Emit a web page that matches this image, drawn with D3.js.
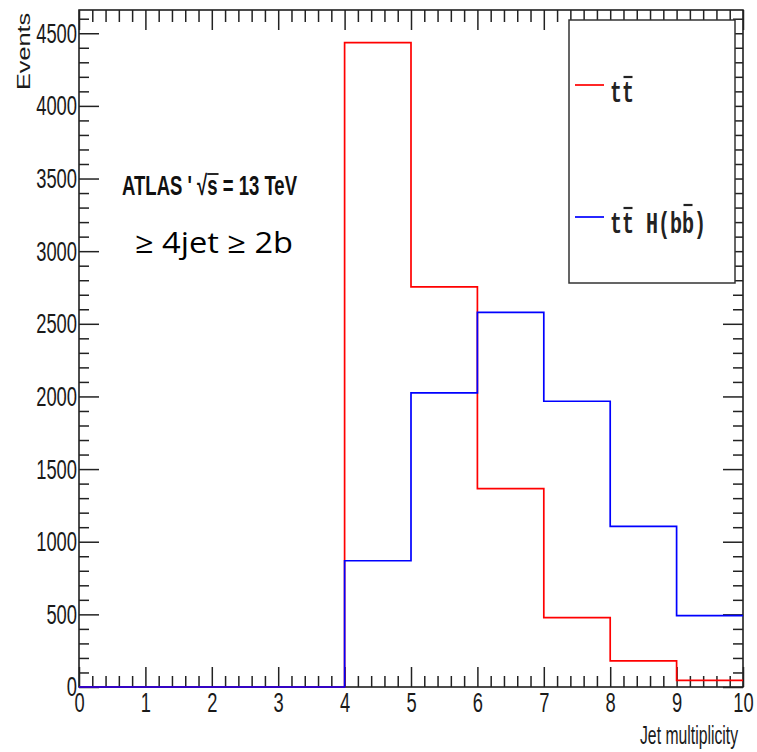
<!DOCTYPE html>
<html lang="en">
<head>
<meta charset="UTF-8">
<script src="https://d3js.org/d3.v7.min.js"></script>
<title>Jet multiplicity</title>
<style>
  body { margin: 0; background: #fff; }
  svg text { font-family: "Liberation Sans", Arial, sans-serif; }
  .tick line { stroke: #222; stroke-width: 1.5; }
  .tick text { fill: #1a1a1a; font-size: 28px; }
  .legend-text { font-family: "Liberation Mono", "DejaVu Sans Mono", monospace; font-weight: bold; font-size: 30px; fill: #222; }
</style>
</head>
<body>
<svg id="chart" width="757" height="752"></svg>
<script>
  // bin low edges (width 1) and histogram contents
  const binLow = [0, 1, 2, 3, 4, 5, 6, 7, 8, 9];
  const ttbar = [0, 0, 0, 0, 4435, 2754, 1365, 477, 180, 45];
  const ttH = [0, 0, 0, 0, 869, 2024, 2578, 1967, 1106, 491];

  const xTicks = [0, 1, 2, 3, 4, 5, 6, 7, 8, 9, 10];
  const yTicks = [0, 500, 1000, 1500, 2000, 2500, 3000, 3500, 4000, 4500];

  const series = [
    { name: "ttbar", values: ttbar, color: "#ff0000" },
    { name: "ttH", values: ttH, color: "#0000ff" }
  ];

  // frame edges
  const fLeft = 79, fRight = 743, fTop = 10, fBottom = 687;

  const svg = d3.select("#chart");

  const x = d3.scaleLinear().domain([0, 10]).range([fLeft, fRight]);
  const y = d3.scaleLinear().domain([0, 4660]).range([fBottom, fTop]);

  const xMinor = d3.range(0, 10.001, 0.2).map(v => +v.toFixed(1)).filter(v => !xTicks.includes(v));
  const yMinor = d3.range(0, 4660, 100).filter(v => !yTicks.includes(v));

  // frame
  svg.append("rect")
    .attr("x", fLeft).attr("y", fTop)
    .attr("width", fRight - fLeft).attr("height", fBottom - fTop)
    .attr("fill", "none").attr("stroke", "#111").attr("stroke-width", 1.5);

  const labelLen = t => String(t).length * 10.2;

  // bottom axis
  svg.append("g").attr("transform", `translate(0,${fBottom})`)
    .call(d3.axisBottom(x).tickValues(xTicks).tickSize(-20).tickSizeOuter(0).tickPadding(5).tickFormat(d3.format("d")))
    .call(g => g.select(".domain").remove())
    .call(g => g.selectAll("text")
      .attr("textLength", d => labelLen(d)).attr("lengthAdjust", "spacingAndGlyphs"));
  svg.append("g").attr("transform", `translate(0,${fBottom})`)
    .call(d3.axisBottom(x).tickValues(xMinor).tickSize(-11).tickSizeOuter(0).tickFormat(""))
    .call(g => g.select(".domain").remove());

  // top axis
  svg.append("g").attr("transform", `translate(0,${fTop})`)
    .call(d3.axisTop(x).tickValues(xTicks).tickSize(-20).tickSizeOuter(0).tickFormat(""))
    .call(g => g.select(".domain").remove());
  svg.append("g").attr("transform", `translate(0,${fTop})`)
    .call(d3.axisTop(x).tickValues(xMinor).tickSize(-12).tickSizeOuter(0).tickFormat(""))
    .call(g => g.select(".domain").remove());

  // left axis
  svg.append("g").attr("transform", `translate(${fLeft},0)`)
    .call(d3.axisLeft(y).tickValues(yTicks).tickSize(-20).tickSizeOuter(0).tickPadding(2).tickFormat(d3.format("d")))
    .call(g => g.select(".domain").remove())
    .call(g => g.selectAll("text")
      .attr("textLength", d => labelLen(d)).attr("lengthAdjust", "spacingAndGlyphs"));
  svg.append("g").attr("transform", `translate(${fLeft},0)`)
    .call(d3.axisLeft(y).tickValues(yMinor).tickSize(-10).tickSizeOuter(0).tickFormat(""))
    .call(g => g.select(".domain").remove());

  // right axis
  svg.append("g").attr("transform", `translate(${fRight},0)`)
    .call(d3.axisRight(y).tickValues(yTicks).tickSize(-20).tickSizeOuter(0).tickFormat(""))
    .call(g => g.select(".domain").remove());
  svg.append("g").attr("transform", `translate(${fRight},0)`)
    .call(d3.axisRight(y).tickValues(yMinor).tickSize(-10).tickSizeOuter(0).tickFormat(""))
    .call(g => g.select(".domain").remove());

  // histograms as step lines
  const line = d3.line()
    .x(d => x(d[0]))
    .y(d => y(d[1]))
    .curve(d3.curveStepAfter);

  series.forEach(s => {
    const pts = binLow.map((b, i) => [b, s.values[i]]);
    pts.push([binLow[binLow.length - 1] + 1, s.values[s.values.length - 1]]);
    svg.append("path")
      .attr("d", line(pts))
      .attr("fill", "none")
      .attr("stroke", s.color)
      .attr("stroke-width", 1.7);
  });

  // axis titles
  svg.append("text")
    .attr("transform", "translate(30,13) rotate(-90)")
    .attr("text-anchor", "end")
    .attr("font-size", 18)
    .attr("textLength", 77).attr("lengthAdjust", "spacingAndGlyphs")
    .attr("fill", "#1a1a1a")
    .text("Events");

  svg.append("text")
    .attr("x", 738).attr("y", 744)
    .attr("text-anchor", "end")
    .attr("font-size", 25)
    .attr("textLength", 98).attr("lengthAdjust", "spacingAndGlyphs")
    .attr("fill", "#1a1a1a")
    .text("Jet multiplicity");

  // ATLAS label
  const atlasStr = "ATLAS ' √s = 13 TeV";
  const atlas = svg.append("text")
    .attr("x", 122).attr("y", 195)
    .attr("font-size", 28).attr("font-weight", "bold")
    .attr("textLength", 175).attr("lengthAdjust", "spacingAndGlyphs")
    .attr("fill", "#111")
    .text(atlasStr);
  const an = atlas.node();
  const sIdx = atlasStr.indexOf("s =");
  const sx0 = an.getStartPositionOfChar(sIdx).x;
  const sx1 = an.getEndPositionOfChar(sIdx).x;
  svg.append("line")
    .attr("x1", sx0).attr("x2", sx1 + 1)
    .attr("y1", 174).attr("y2", 174)
    .attr("stroke", "#111").attr("stroke-width", 1.8);

  svg.append("text")
    .attr("x", 135).attr("y", 253)
    .attr("font-size", 29)
    .attr("textLength", 158).attr("lengthAdjust", "spacingAndGlyphs")
    .attr("fill", "#000")
    .style("font-family", "'Open Sans', 'Noto Sans', sans-serif")
    .text("≥ 4jet ≥ 2b");

  // legend
  svg.append("rect")
    .attr("x", 569).attr("y", 20)
    .attr("width", 735 - 569).attr("height", 283 - 20)
    .attr("fill", "#fff").attr("stroke", "#333").attr("stroke-width", 1.5);

  const legendRows = [
    { label: "tt", bars: [1], color: series[0].color, ly: 85, by: 102 },
    { label: "tt H(bb)", bars: [1, 6], color: series[1].color, ly: 217, by: 233 }
  ];

  legendRows.forEach(r => {
    svg.append("line")
      .attr("x1", 575).attr("x2", 604)
      .attr("y1", r.ly).attr("y2", r.ly)
      .attr("stroke", r.color).attr("stroke-width", 1.7);
    const t = svg.append("text")
      .attr("class", "legend-text")
      .attr("x", 610).attr("y", r.by)
      .attr("textLength", r.label.length * 12).attr("lengthAdjust", "spacingAndGlyphs")
      .text(r.label);
    const n = t.node();
    r.bars.forEach(i => {
      const x0 = n.getStartPositionOfChar(i).x;
      const x1 = n.getEndPositionOfChar(i).x;
      const yb = r.by - (r.label[i] === "b" ? 28 : 25);
      svg.append("line")
        .attr("x1", x0 + 1.5).attr("x2", x1 - 1.5)
        .attr("y1", yb).attr("y2", yb)
        .attr("stroke", "#222").attr("stroke-width", 2.2);
    });
  });
</script>
</body>
</html>
